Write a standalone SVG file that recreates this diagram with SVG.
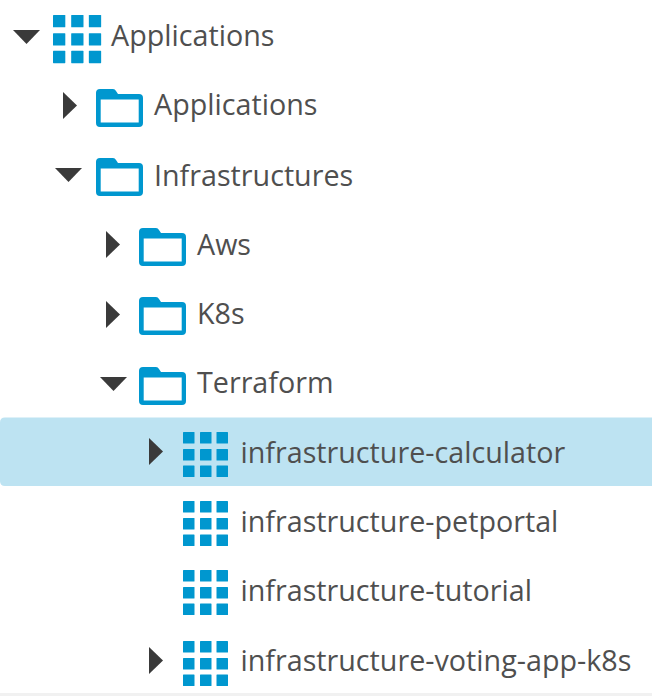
<svg xmlns="http://www.w3.org/2000/svg" width="652" height="696" viewBox="0 0 652 696">
<style>
text{font-family:"Open Sans","Noto Sans",sans-serif;font-size:28.7px;fill:#4f4f4f}
.c{fill:#0097cf}
.a{fill:#3a3a3a}
.f{fill:#0097cf;fill-rule:evenodd}
</style>
<defs>
<g id="grid"><rect class="c" x="0" y="0" width="11.500" height="11.500" rx="0.500"/><rect class="c" x="17" y="0" width="11.500" height="11.500" rx="0.500"/><rect class="c" x="33.500" y="0" width="11.500" height="11.500" rx="0.500"/><rect class="c" x="0" y="17" width="11.500" height="11.500" rx="0.500"/><rect class="c" x="17" y="17" width="11.500" height="11.500" rx="0.500"/><rect class="c" x="33.500" y="17" width="11.500" height="11.500" rx="0.500"/><rect class="c" x="0" y="33.500" width="11.500" height="11.500" rx="0.500"/><rect class="c" x="17" y="33.500" width="11.500" height="11.500" rx="0.500"/><rect class="c" x="33.500" y="33.500" width="11.500" height="11.500" rx="0.500"/></g>
<path id="folder" class="f" d="M0 4Q0 0 4 0H17Q19 0 20 2L22 5H43Q47 5 47 9V34Q47 38 43 38H4Q0 38 0 34ZM4.700 10.500V33.400H42.700V10.500Z"/>
<path id="right" class="a" d="M0 0L14 13.500L0 27Z"/>
<path id="down" class="a" d="M0 0H27L13.500 14Z"/>
</defs>
<rect width="652" height="696" fill="#fff"/>
<rect x="0" y="693" width="652" height="3" fill="#f1f1f1"/>
<path d="M652 417.500H5Q0 417.500 0 422.500V481Q0 486 5 486H652Z" fill="#bde3f2"/>
<g id="n-applications-root"><use href="#down" x="13" y="30"/><use href="#grid" transform="translate(53 15) scale(1.07)"/><text x="111" y="45.500">Applications</text></g>
<g id="n-applications"><use href="#right" x="63" y="92"/><use href="#folder" x="96" y="89"/><text x="154" y="115">Applications</text></g>
<g id="n-infrastructures"><use href="#down" x="55" y="168"/><use href="#folder" x="96" y="158"/><text x="154" y="185.500">Infrastructures</text></g>
<g id="n-aws"><use href="#right" x="106" y="231"/><use href="#folder" x="139" y="228"/><text x="197" y="255">Aws</text></g>
<g id="n-k8s"><use href="#right" x="106" y="301"/><use href="#folder" x="139" y="297"/><text x="197" y="324">K8s</text></g>
<g id="n-terraform"><use href="#down" x="100" y="377"/><use href="#folder" x="139" y="367"/><text x="197" y="393">Terraform</text></g>
<g id="n-calculator"><use href="#right" x="149" y="438"/><use href="#grid" x="183" y="432"/><text x="240.500" y="463">infrastructure-calculator</text></g>
<g id="n-petportal"><use href="#grid" x="183" y="501"/><text x="240.500" y="532">infrastructure-petportal</text></g>
<g id="n-tutorial"><use href="#grid" x="183" y="570"/><text x="240.500" y="601">infrastructure-tutorial</text></g>
<g id="n-voting"><use href="#right" x="149" y="647"/><use href="#grid" x="183" y="641"/><text x="240.500" y="671">infrastructure-voting-app-k8s</text></g>
<g id="connectors"/>
</svg>
